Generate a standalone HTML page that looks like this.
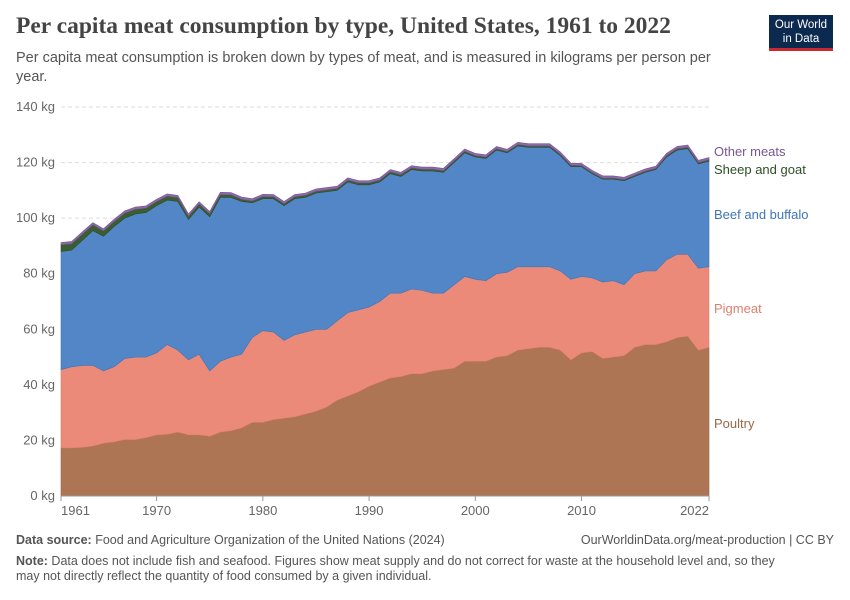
<!DOCTYPE html>
<html><head><meta charset="utf-8">
<style>
body{margin:0;width:850px;height:600px;background:#fff;font-family:"Liberation Sans",sans-serif;position:relative;overflow:hidden}
.t{position:absolute;white-space:nowrap}
</style></head><body>
<div class="t" style="left:16px;top:13px;font-family:'Liberation Serif',serif;font-size:23.5px;font-weight:bold;color:#444">Per capita meat consumption by type, United States, 1961 to 2022</div>
<div class="t" style="left:16px;top:49px;font-size:14.5px;color:#555;line-height:19px;white-space:normal;width:720px">Per capita meat consumption is broken down by types of meat, and is measured in kilograms per person per year.</div>
<div style="position:absolute;left:769px;top:15px;width:64px;height:36px;background:#0c2a4f;border-bottom:3px solid #c8282e;color:#fff;font-size:11.5px;text-align:center;line-height:14px;padding-top:3px;box-sizing:border-box">Our World<br>in Data</div>
<svg id="chart" width="850" height="600" style="position:absolute;left:0;top:0"></svg>
<div class="t" style="left:16px;top:533px;font-size:12.5px;color:#555"><b>Data source:</b> Food and Agriculture Organization of the United Nations (2024)</div>
<div class="t" style="right:16px;top:533px;font-size:12.5px;color:#555">OurWorldinData.org/meat-production | CC BY</div>
<div class="t" style="left:16px;top:554px;font-size:12.5px;color:#555;white-space:normal;width:780px;line-height:15px"><b>Note:</b> Data does not include fish and seafood. Figures show meat supply and do not correct for waste at the household level and, so they may not directly reflect the quantity of food consumed by a given individual.</div>
<script>
const years=[];for(let y=1961;y<=2022;y++)years.push(y);
const poultry=[17.3,17.3,17.5,18,19,19.5,20.3,20.3,21,22,22.2,23,22,22,21.5,23,23.5,24.5,26.5,26.5,27.5,28,28.5,29.5,30.5,32,34.5,36,37.5,39.5,41,42.5,43,44,44,45,45.5,46,48.5,48.5,48.5,50,50.5,52.5,53,53.5,53.5,52.5,49,51.5,52,49.5,50,50.5,53.5,54.5,54.5,55.5,57,57.5,52.5,53.5];
const pigmeat=[28.2,29.2,29.5,29,26,27,29.2,29.7,29,29.5,32.3,29.5,27,29,23.5,25.5,26.5,26.5,30.5,33,31.5,28,29.5,29.5,29.5,28,28.5,30,29.5,28.5,29,30.5,30,30.5,30,28,27.5,30,30.5,29.5,29,30,30,30,29.5,29,29,28.5,29,27.5,26.5,27.5,27.5,25.5,26.5,26.5,26.5,29.5,30,29.5,29.5,29];
const beef=[42.5,42,45,48.5,48.5,50.5,50.5,51.5,52,53,52,53.5,50.5,53,55.5,59,57.5,55,48.5,47.5,48,48.5,49,48.5,49,49.5,47,47,45,44,43,43,42,43,43,44,43.5,44,44.5,44,44,44.5,43,43.5,43,43,43,41.5,40.5,39.5,37.5,37,36.5,37.5,35,35.5,36.5,37,37.5,38,37.5,38];
const sheep=[2.4,2.3,2.2,2.1,1.9,1.8,1.8,1.7,1.6,1.5,1.4,1.4,1.2,1.1,1.1,1,0.9,0.8,0.7,0.8,0.7,0.7,0.7,0.7,0.7,0.7,0.7,0.7,0.7,0.7,0.7,0.7,0.7,0.6,0.6,0.6,0.6,0.6,0.6,0.5,0.5,0.5,0.5,0.5,0.5,0.5,0.5,0.5,0.5,0.4,0.4,0.4,0.4,0.4,0.4,0.4,0.4,0.5,0.5,0.5,0.5,0.5];
const other=years.map(()=>0.8);
const series=[["poultry","Poultry",poultry,"#ad7553","#9a6748"],["pigmeat","Pigmeat",pigmeat,"#ec8a7a","#e07f6e"],["beef","Beef and buffalo",beef,"#5286c6","#3f74b8"],["sheep","Sheep and goat",sheep,"#3a5e32","#2d4e26"],["other","Other meats",other,"#8a6aa5","#7a5595"]];
const yTicks=[0,20,40,60,80,100,120,140];
const xTicks=[1961,1970,1980,1990,2000,2010,2022];
const X0=61,X1=709,Y0=496,KG=389/140;
const xs=y=>X0+(y-1961)*(X1-X0)/(2022-1961);
const ys=v=>Y0-v*KG;
const svg=document.getElementById('chart');const NS="http://www.w3.org/2000/svg";
function mk(t,a){const e=document.createElementNS(NS,t);for(const k in a)e.setAttribute(k,a[k]);svg.appendChild(e);return e;}
yTicks.forEach(v=>{
 if(v>0){const g=mk('line',{x1:X0,x2:X1,y1:ys(v),y2:ys(v),stroke:'#ddd','stroke-dasharray':'4,3'});
 
 }
 const t=mk('text',{x:55,y:ys(v)+4,'text-anchor':'end','font-size':13,fill:'#666','font-family':'Liberation Sans, sans-serif'});t.textContent=v+' kg';
 
 
});
let base=years.map(()=>0);
const labelY={poultry:428,pigmeat:313,beef:219,sheep:174,other:156};
series.forEach(s=>{
 const top=base.map((b,i)=>b+s[2][i]);
 let d='M'+years.map((y,i)=>xs(y)+','+ys(top[i])).join(' L');
 for(let i=years.length-1;i>=0;i--)d+=' L'+xs(years[i])+','+ys(base[i]);
 const p=mk('path',{d:d+'Z',fill:s[3],stroke:s[4],'stroke-width':0.6});
 
 
 const t=mk('text',{x:714,y:labelY[s[0]],'font-size':13,fill:s[4],'font-family':'Liberation Sans, sans-serif'});t.textContent=s[1];
 
 
 base=top;
});
const ax=mk('line',{x1:X0,x2:X1,y1:Y0,y2:Y0,stroke:'#999'});


xTicks.forEach((y,i)=>{
 const l=mk('line',{x1:xs(y),x2:xs(y),y1:Y0,y2:Y0+5,stroke:'#999'});
 
 
 const anchor=i===0?'start':(i===xTicks.length-1?'end':'middle');
 const t=mk('text',{x:xs(y),y:Y0+19,'text-anchor':anchor,'font-size':13,fill:'#666','font-family':'Liberation Sans, sans-serif'});t.textContent=y;
 
 
});
</script>
</body></html>
